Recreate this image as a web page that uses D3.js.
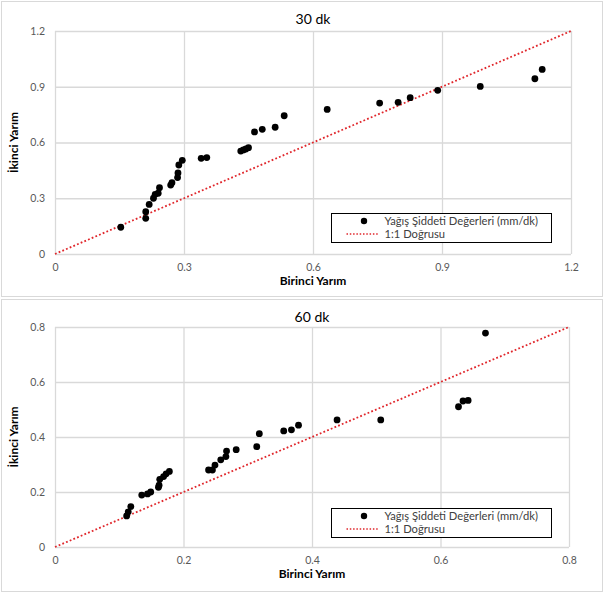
<!DOCTYPE html>
<html><head><meta charset="utf-8">
<script src="https://cdn.jsdelivr.net/npm/d3@7"></script>
<style>body{margin:0;background:#fff}svg{display:block}</style>
</head><body>
<svg id="c" width="607" height="594"></svg>
<script>
// ---- data ----
const titles = ["30 dk", "60 dk"];
const xTitle = "Birinci Yarım";
const yTitle = "İkinci Yarım";
const legendLabels = ["Yağış Şiddeti Değerleri (mm/dk)", "1:1 Doğrusu"];

const ticks30 = [0, 0.3, 0.6, 0.9, 1.2];
const ticks60 = [0, 0.2, 0.4, 0.6, 0.8];

const first30 = [0.153,0.211,0.211,0.219,0.229,0.233,0.240,0.243,0.269,0.272,0.285,0.286,0.288,0.296,0.340,0.353,0.432,0.438,0.444,0.450,0.464,0.482,0.512,0.533,0.633,0.755,0.798,0.826,0.890,0.989,1.116,1.133];
const second30 = [0.144,0.192,0.228,0.267,0.300,0.321,0.327,0.357,0.371,0.384,0.411,0.436,0.479,0.504,0.515,0.519,0.554,0.560,0.565,0.572,0.657,0.671,0.682,0.744,0.778,0.812,0.816,0.841,0.881,0.902,0.943,0.993];

const first60 = [0.1115,0.114,0.118,0.135,0.144,0.149,0.161,0.162,0.163,0.169,0.173,0.178,0.239,0.245,0.249,0.258,0.266,0.267,0.282,0.314,0.318,0.356,0.368,0.379,0.439,0.507,0.628,0.635,0.643,0.670];
const second60 = [0.113,0.128,0.147,0.189,0.193,0.200,0.217,0.225,0.246,0.256,0.266,0.275,0.280,0.280,0.298,0.317,0.329,0.349,0.354,0.365,0.412,0.422,0.426,0.443,0.462,0.462,0.510,0.531,0.533,0.778];

// ---- drawing ----
const svg = d3.select("#c");
const FONT = "Lato, 'Open Sans', sans-serif";

const panels = [
  {title: titles[0], ticks: ticks30, xs: first30, ys: second30,
   box: [1, 1, 601, 295], x: [55, 571], y: [254, 31], titleY: 24,
   legend: {x: 331.5, y: 213.5, w: 220, h: 29}},
  {title: titles[1], ticks: ticks60, xs: first60, ys: second60,
   box: [1, 299, 601, 292], x: [55, 569], y: [547, 327], titleY: 322,
   legend: {x: 331.5, y: 508.5, w: 220, h: 29}}
];

panels.forEach(p => {
  const g = svg.append("g");
  g.append("rect").attr("x", p.box[0] + 0.5).attr("y", p.box[1] + 0.5)
    .attr("width", p.box[2]).attr("height", p.box[3])
    .attr("fill", "#fff").attr("stroke", "#d9d9d9");

  const max = p.ticks[p.ticks.length - 1];
  const xs = d3.scaleLinear().domain([0, max]).range(p.x);
  const ys = d3.scaleLinear().domain([0, max]).range(p.y);

  // gridlines
  const xAxis = d3.axisBottom(xs).tickValues(p.ticks).tickSize(-(p.y[0] - p.y[1])).tickFormat(d3.format("~g"));
  const yAxis = d3.axisLeft(ys).tickValues(p.ticks).tickSize(-(p.x[1] - p.x[0])).tickFormat(d3.format("~g"));

  const gx = g.append("g").attr("transform", `translate(0,${p.y[0]})`).call(xAxis);
  const gy = g.append("g").attr("transform", `translate(${p.x[0]},0)`).call(yAxis);
  [gx, gy].forEach(a => {
    a.select(".domain").remove();
    a.selectAll(".tick line").attr("stroke", "#d9d9d9").attr("stroke-width", 1.3);
    a.selectAll(".tick text").attr("fill", "#595959").attr("font-family", FONT).attr("font-size", 10.5);
  });
  gx.selectAll(".tick text").attr("dy", "0.71em").attr("y", 10);
  gy.selectAll(".tick text").attr("x", -10);

  // title
  g.append("text").attr("x", (p.x[0] + p.x[1]) / 2).attr("y", p.titleY)
    .attr("text-anchor", "middle").attr("font-family", FONT).attr("font-size", 14)
    .attr("fill", "#000").text(p.title);

  // axis titles
  g.append("text").attr("x", (p.x[0] + p.x[1]) / 2).attr("y", p.y[0] + 31)
    .attr("text-anchor", "middle").attr("font-family", FONT).attr("font-size", 12)
    .attr("font-weight", "bold").attr("fill", "#000").text(xTitle);
  g.append("text").attr("transform", `translate(18,${(p.y[0] + p.y[1]) / 2}) rotate(-90)`)
    .attr("text-anchor", "middle").attr("font-family", FONT).attr("font-size", 12)
    .attr("font-weight", "bold").attr("fill", "#000").text(yTitle);

  // 1:1 line
  g.append("line").attr("x1", xs(0)).attr("y1", ys(0)).attr("x2", xs(max)).attr("y2", ys(max))
    .attr("stroke", "#e0262b").attr("stroke-width", 1.8).attr("stroke-dasharray", "1.8,2.2");

  // points
  g.selectAll("circle.pt").data(p.xs.map((v, i) => [v, p.ys[i]])).join("circle")
    .attr("class", "pt").attr("cx", d => xs(d[0])).attr("cy", d => ys(d[1]))
    .attr("r", 3.4).attr("fill", "#000");

  // legend
  const L = p.legend;
  const lg = g.append("g");
  lg.append("rect").attr("x", L.x).attr("y", L.y).attr("width", L.w).attr("height", L.h)
    .attr("fill", "#fff").attr("stroke", "#000").attr("stroke-width", 1);
  lg.append("circle").attr("cx", L.x + 32.5).attr("cy", L.y + 7.5).attr("r", 3.2).attr("fill", "#000");
  lg.append("line").attr("x1", L.x + 15).attr("x2", L.x + 48).attr("y1", L.y + 20.5).attr("y2", L.y + 20.5)
    .attr("stroke", "#e0262b").attr("stroke-width", 1.3).attr("stroke-dasharray", "1.5,1.8");
  lg.append("text").attr("x", L.x + 53).attr("y", L.y + 11.5).attr("font-family", FONT)
    .attr("font-size", 11.2).attr("fill", "#404040").text(legendLabels[0]);
  lg.append("text").attr("x", L.x + 53).attr("y", L.y + 24.5).attr("font-family", FONT)
    .attr("font-size", 11.2).attr("fill", "#404040").text(legendLabels[1]);
});
</script>
</body></html>
